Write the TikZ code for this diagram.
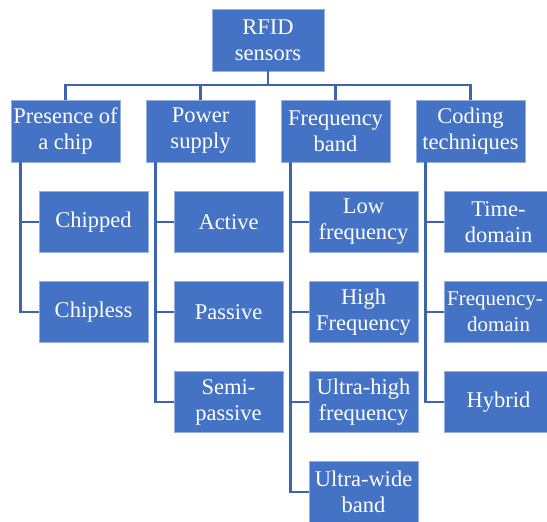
\documentclass[tikz,border=0pt]{standalone}
\usepackage{fontspec}
\setmainfont{Liberation Serif}
\newfontfamily\boxfont{Liberation Serif}
\usepackage{tikz}
\usetikzlibrary{calc}
\definecolor{boxblue}{RGB}{68,114,196}
\definecolor{lineblue}{RGB}{61,100,176}
\definecolor{edgeblue}{RGB}{150,176,224}
\tikzset{box/.style = {shape=rectangle,fill=boxblue,draw=edgeblue,line width=0.6pt,
  text=white,align=center,inner sep=0pt,minimum width=109pt,minimum height=62pt,
  font=\boxfont\fontsize{22.5}{26}\selectfont}}
\tikzset{link/.style = {draw=lineblue,line width=2.8pt}}

\begin{document}
\begin{tikzpicture}[x=1pt,y=-1pt]
    \useasboundingbox (0,0) rectangle (547,522);
    \clip (0,0) rectangle (547,522);

    \node[box,minimum width=112pt] (rfid) at (268,40) {RFID\\sensors};
    \coordinate (bus) at (268,85);

    \node[box] (chip) at (65.5,131) {Presence of\\a chip};
    \node[box] (power) at (200.5,131) {Power\\supply};
    \node[box] (freq) at (335.5,131) {Frequency\\band};
    \node[box] (coding) at (470.5,131) {Coding\\techniques};

    % presence of a chip
    \node[box,minimum height=61pt] (chipped) at (93.5,222) {Chipped};
    \node[box,minimum height=61pt] (chipless) at (93.5,312) {Chipless};
    % power supply
    \node[box,minimum height=61pt] (active) at (228.5,222) {Active};
    \node[box,minimum height=61pt] (passive) at (228.5,312) {Passive};
    \node[box,minimum height=61pt] (semi) at (228.5,402) {Semi-\\passive};
    % frequency band
    \node[box,minimum height=61pt] (lowf) at (363.5,222) {Low\\frequency};
    \node[box,minimum height=61pt] (highf) at (363.5,312) {High\\Frequency};
    \node[box,minimum height=61pt] (uhf) at (363.5,402) {Ultra-high\\frequency};
    \node[box,minimum height=61pt] (uwb) at (363.5,492) {Ultra-wide\\band};
    % coding techniques
    \node[box,minimum height=61pt] (timed) at (498.5,222) {Time-\\domain};
    \node[box,minimum height=61pt,font=\boxfont\fontsize{21}{26}\selectfont] (freqd) at (498.5,312) {\hspace*{-7pt}Frequency-\\domain};
    \node[box,minimum height=61pt] (hybrid) at (498.5,402) {Hybrid};

    \draw[link] (rfid.south) -- (bus) -| (chip.north);
    \draw[link] (bus) -| (power.north);
    \draw[link] (bus) -| (freq.north);
    \draw[link] (bus) -| (coding.north);

    \foreach \p/\c in {chip/chipped,chip/chipless,power/active,power/passive,power/semi,
        freq/lowf,freq/highf,freq/uhf,freq/uwb,coding/timed,coding/freqd,coding/hybrid}
      \draw[link] ($(\p.south west)+(10,0)$) |- (\c.west);
\end{tikzpicture}
\end{document}
